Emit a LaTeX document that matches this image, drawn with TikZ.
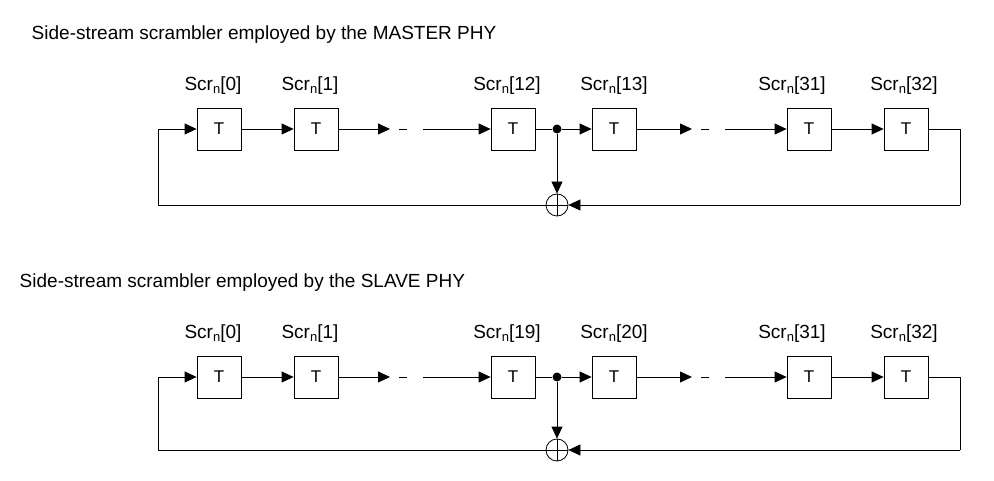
\documentclass[tikz,border=0pt]{standalone}
\usepackage{fontspec}
\setmainfont{Liberation Sans}
\usetikzlibrary{arrows.meta}
\begin{document}
\begin{tikzpicture}[x=1pt,y=-1pt,
  box/.style={draw,minimum width=44pt,minimum height=42pt,inner sep=0pt,font=\fontsize{17}{17}\selectfont},
  lab/.style={font=\fontsize{19}{20}\selectfont,anchor=south},
  ttl/.style={font=\fontsize{19}{20}\selectfont,anchor=west},
  ar/.style={-{Triangle[length=12pt,width=11pt]}},
  line width=0.8pt]
\useasboundingbox (0,0) rectangle (994,481);
\newcommand{\chainrow}[6]{%
  \node[ttl] (#1t) at (#5,#4) {#6};
  \foreach \i/\x in {1/219,2/316,3/513,4/614,5/809,6/906}{\node[box] (#1\i) at (\x,#2) {T};}
  \coordinate (#1L) at (158,#2); \coordinate (#1R) at (960,#2);
  \coordinate (#1BL) at (158,#3); \coordinate (#1BR) at (960,#3);
  \coordinate (#1m1) at (390,#2); \coordinate (#1n1) at (442,#2);
  \coordinate (#1m2) at (692,#2); \coordinate (#1n2) at (744,#2);
  \node[circle,fill,inner sep=0pt,minimum size=9pt] (#1d) at (557,#2) {};
  \node[circle,draw,minimum size=22pt,inner sep=0pt] (#1x) at (557,#3) {};
  \draw (#1x.north)--(#1x.south) (#1x.west)--(#1x.east);
  \draw[ar] (#1L)--(#11.west);
  \draw[ar] (#11.east)--(#12.west);
  \draw[ar] (#12.east)--(#1m1);
  \draw[dash pattern=on 0pt off 9pt on 8pt off 16pt on 19pt off 100pt] (#1m1)--(#1n1);
  \draw[ar] (#1n1)--(#13.west);
  \draw (#13.east)--(#1d);
  \draw[ar] (#1d)--(#14.west);
  \draw[ar] (#14.east)--(#1m2);
  \draw[dash pattern=on 0pt off 9pt on 8pt off 16pt on 19pt off 100pt] (#1m2)--(#1n2);
  \draw[ar] (#1n2)--(#15.west);
  \draw[ar] (#15.east)--(#16.west);
  \draw (#16.east)--(#1R)--(#1BR);
  \draw[ar] (#1BR)--(#1x.east);
  \draw (#1x.west)--(#1BL)--(#1L);
  \draw[ar] (#1d)--(#1x.north);
}
\chainrow{a}{129}{205}{35}{28}{Side-stream scrambler employed by the MASTER PHY}
\chainrow{b}{377}{450}{283}{16}{Side-stream scrambler employed by the SLAVE PHY}
\foreach \p/\y/\c/\d in {a/98/12/13,b/346/19/20}{
  \node[lab] (\p l1) at (213,\y) {Scr\raisebox{-0.3ex}{\fontsize{13}{13}\selectfont n}[0]};
  \node[lab] (\p l2) at (310,\y) {Scr\raisebox{-0.3ex}{\fontsize{13}{13}\selectfont n}[1]};
  \node[lab] (\p l3) at (507,\y) {Scr\raisebox{-0.3ex}{\fontsize{13}{13}\selectfont n}[\c]};
  \node[lab] (\p l4) at (614,\y) {Scr\raisebox{-0.3ex}{\fontsize{13}{13}\selectfont n}[\d]};
  \node[lab] (\p l5) at (792,\y) {Scr\raisebox{-0.3ex}{\fontsize{13}{13}\selectfont n}[31]};
  \node[lab] (\p l6) at (904,\y) {Scr\raisebox{-0.3ex}{\fontsize{13}{13}\selectfont n}[32]};
}
\end{tikzpicture}
\end{document}
